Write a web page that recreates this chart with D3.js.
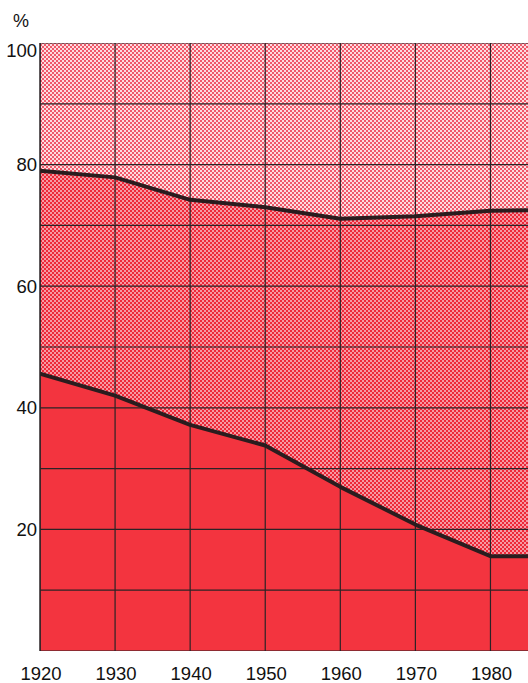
<!DOCTYPE html>
<html><head><meta charset="utf-8">
<script src="https://cdn.jsdelivr.net/npm/d3@7"></script>
<style>
html,body{margin:0;padding:0;background:#fff;}
svg{display:block;}
text{font-family:"Liberation Sans",Arial,sans-serif;fill:#111;}
</style></head>
<body>
<svg id="c" width="528" height="683"></svg>
<script>
const years = [1920, 1930, 1940, 1950, 1960, 1970, 1980, 1985];
const seriesA = [45.6, 42.0, 37.2, 33.8, 27.0, 20.8, 15.6, 15.6];
const seriesB = [33.4, 35.9, 37.0, 39.2, 44.1, 50.7, 56.8, 56.9];
const seriesC = [21.0, 22.1, 25.8, 27.0, 28.9, 28.5, 27.6, 27.5];
const xTicks = [1920, 1930, 1940, 1950, 1960, 1970, 1980];
const yTicks = [20, 40, 60, 80, 100];
const yGrid = [0, 10, 20, 30, 40, 50, 60, 70, 80, 90, 100];

(function () {
const rows = years.map((yr, i) => ({year: yr, A: seriesA[i], B: seriesB[i], C: seriesC[i]}));
const stacked = d3.stack().keys(["A", "B", "C"])(rows);

const svg = d3.select("#c");
const mL = 40, mR = 528, mT = 43, mB = 651;
const x = d3.scaleLinear().domain([1920, 1985]).range([mL, mR]);
const y = d3.scaleLinear().domain([0, 100]).range([mB, mT]);

const defs = svg.append("defs");
function pat(id, bg, fg) {
  const p = defs.append("pattern").attr("id", id).attr("patternUnits", "userSpaceOnUse")
    .attr("width", 4).attr("height", 4);
  p.append("rect").attr("width", 4).attr("height", 4).attr("fill", bg);
  p.append("rect").attr("x", 0).attr("y", 0).attr("width", 2).attr("height", 2).attr("fill", fg);
  p.append("rect").attr("x", 2).attr("y", 2).attr("width", 2).attr("height", 2).attr("fill", fg);
}
pat("pTop", "#fcdde0", "#f0586a");
pat("pMid", "#f59aa3", "#ee2838");
const fills = ["#f3343f", "url(#pMid)", "url(#pTop)"];

const area = d3.area().x(d => x(d.data.year)).y0(d => y(d[0])).y1(d => y(d[1]));
svg.append("clipPath").attr("id", "clip").append("rect")
  .attr("x", mL).attr("y", mT).attr("width", mR - mL).attr("height", mB - mT);
const g = svg.append("g").attr("clip-path", "url(#clip)");
g.selectAll("path.a").data(stacked).join("path").attr("class", "a")
  .attr("d", area).attr("fill", (d, i) => fills[i]);

g.selectAll("line.v").data(xTicks).join("line").attr("class", "v")
  .attr("x1", d => x(d)).attr("x2", d => x(d)).attr("y1", mT).attr("y2", mB)
  .attr("stroke", "#2b2326").attr("stroke-width", 1.2);
g.selectAll("line.h").data(yGrid).join("line").attr("class", "h")
  .attr("x1", mL).attr("x2", mR).attr("y1", d => y(d)).attr("y2", d => y(d))
  .attr("stroke", "#2b2326").attr("stroke-width", 1.2);
svg.append("line").attr("x1", mL).attr("x2", mL).attr("y1", mT).attr("y2", mB)
  .attr("stroke", "#2b2326").attr("stroke-width", 1.5);

const line = d3.line().x(d => x(d.data.year)).y(d => y(d[1]));
g.selectAll("path.l").data(stacked.slice(0, 2)).join("path").attr("class", "l")
  .attr("d", line).attr("fill", "none").attr("stroke", "#2a1c1e")
  .attr("stroke-width", 4).attr("stroke-linejoin", "round");

svg.selectAll("text.y").data(yTicks).join("text").attr("class", "y")
  .attr("x", 37).attr("y", d => d === 100 ? y(d) + 8 : y(d))
  .attr("dy", "0.35em").attr("text-anchor", "end").attr("font-size", 18.5).text(d => d);
svg.append("text").attr("x", 13).attr("y", 27).attr("font-size", 18).text("%");
svg.selectAll("text.x").data(xTicks).join("text").attr("class", "x")
  .attr("x", d => x(d) + 1).attr("y", 680).attr("text-anchor", "middle")
  .attr("font-size", 18.5).text(d => d);
})();
</script>
</body></html>
